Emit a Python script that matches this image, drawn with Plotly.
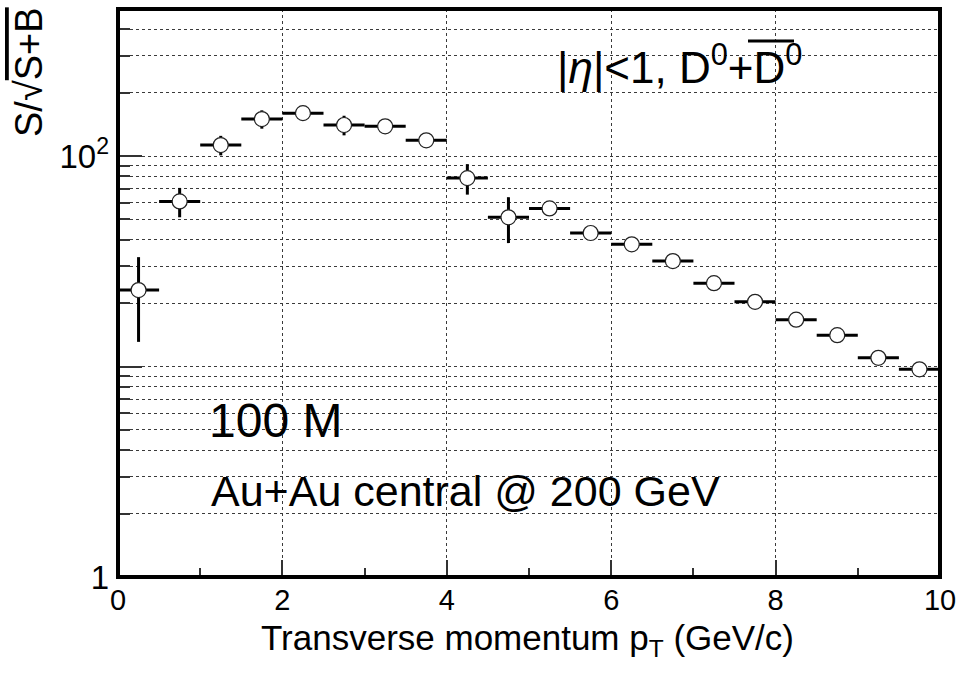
import math
import plotly.graph_objects as go

# ---- data ----
pt_centers = [0.25, 0.75, 1.25, 1.75, 2.25, 2.75, 3.25, 3.75, 4.25, 4.75,
              5.25, 5.75, 6.25, 6.75, 7.25, 7.75, 8.25, 8.75, 9.25, 9.75]
pt_halfwidth = [0.25] * 20
significance = [23.1, 60.9, 112.8, 150.0, 160.0, 140.5, 138.5, 118.8, 78.6, 51.2,
                56.4, 43.1, 38.1, 31.7, 24.9, 20.3, 16.7, 14.1, 11.0, 9.7]
significance_err = [10.0, 9.7, 12.0, 15.0, 12.0, 15.0, 10.0, 8.0, 13.0, 12.6,
                    3.0, 2.5, 2.2, 1.8, 1.4, 1.2, 1.0, 0.8, 0.6, 0.5]

x_tickvals = [0, 2, 4, 6, 8, 10]
x_minor = [1, 3, 5, 7, 9]
y_tickvals = [1, 10, 100]
y_ticktext = ["1", "", "10<sup>2</sup>"]
y_minor = [2, 3, 4, 5, 6, 7, 8, 9, 20, 30, 40, 50, 60, 70, 80, 90, 200, 300, 400, 500]

W, H = 957, 673
L, R, T, B = 118, 17, 9, 96
PW, PH = W - L - R, H - T - B
FONT = "Liberation Sans, Arial, Helvetica, sans-serif"


def px(x):
    return (x - L) / PW


def py(y):
    return (H - B - y) / PH


fig = go.Figure()
fig.add_trace(go.Scatter(
    x=pt_centers, y=significance, mode="markers",
    marker=dict(symbol="circle", size=15, color="white",
                line=dict(color="#222", width=1.2)),
    error_x=dict(type="data", array=pt_halfwidth, symmetric=True,
                 color="black", thickness=3, width=0),
    error_y=dict(type="data", array=significance_err, symmetric=True,
                 color="black", thickness=3, width=0),
    showlegend=False,
))

grid_kw = dict(gridcolor="#3a3a3a", griddash="dot", gridwidth=1)

fig.update_xaxes(
    range=[0, 10], tickmode="array", tickvals=x_tickvals,
    ticks="inside", ticklen=17, tickwidth=2, tickcolor="#333",
    showgrid=True, **grid_kw, zeroline=False, showline=False,
    tickfont=dict(family=FONT, size=29, color="black"),
    ticklabelstandoff=3, ticklabeloverflow="allow", automargin=False,
    minor=dict(tickmode="array", tickvals=x_minor, ticks="inside",
               ticklen=9, tickwidth=1.5, tickcolor="#333", showgrid=False),
)
fig.update_yaxes(
    type="log", range=[0, math.log10(500)], tickmode="array",
    tickvals=y_tickvals, ticktext=y_ticktext,
    ticks="inside", ticklen=24, tickwidth=2, tickcolor="#333",
    showgrid=True, **grid_kw, zeroline=False, showline=False,
    tickfont=dict(family=FONT, size=33, color="black"),
    ticklabelstandoff=8, ticklabeloverflow="allow", automargin=False,
    minor=dict(tickmode="array", tickvals=y_minor, ticks="inside",
               ticklen=12, tickwidth=1.5, tickcolor="#333",
               showgrid=True, **grid_kw),
)

fig.add_shape(type="rect", xref="paper", yref="paper", x0=0, x1=1, y0=0, y1=1,
              line=dict(color="black", width=4), layer="above")
# overline of the anti-D0 symbol
fig.add_shape(type="line", xref="paper", yref="paper",
              x0=px(748), x1=px(794), y0=py(41), y1=py(41),
              line=dict(color="black", width=3), layer="above")

annotations = [
    dict(text="|<i>η</i>|<1, D<sup>0</sup>+D<sup>0</sup>",
         x=px(555), y=py(65), xanchor="left", yanchor="middle",
         font=dict(family=FONT, size=44, color="black")),
    dict(text="100 M", x=px(207), y=py(420), xanchor="left", yanchor="middle",
         font=dict(family=FONT, size=48, color="black")),
    dict(text="Au+Au central @ 200 GeV", x=px(209), y=py(491), xanchor="left",
         yanchor="middle", font=dict(family=FONT, size=43, color="black")),
    dict(text="Transverse momentum p<sub>T</sub> (GeV/c)", x=px(527), y=py(640),
         xanchor="center", yanchor="middle",
         font=dict(family=FONT, size=35, color="black")),
    dict(text="S/√<span style='text-decoration:overline'>S+B</span>", x=px(29), y=py(5),
         xanchor="center", yanchor="top", textangle=-90,
         font=dict(family=FONT, size=38, color="black")),
]
for a in annotations:
    a.update(xref="paper", yref="paper", showarrow=False)
fig.update_layout(
    width=W, height=H, margin=dict(l=L, r=R, t=T, b=B, autoexpand=False),
    paper_bgcolor="white", plot_bgcolor="white",
    annotations=annotations,
)

fig.write_html("out.html")
